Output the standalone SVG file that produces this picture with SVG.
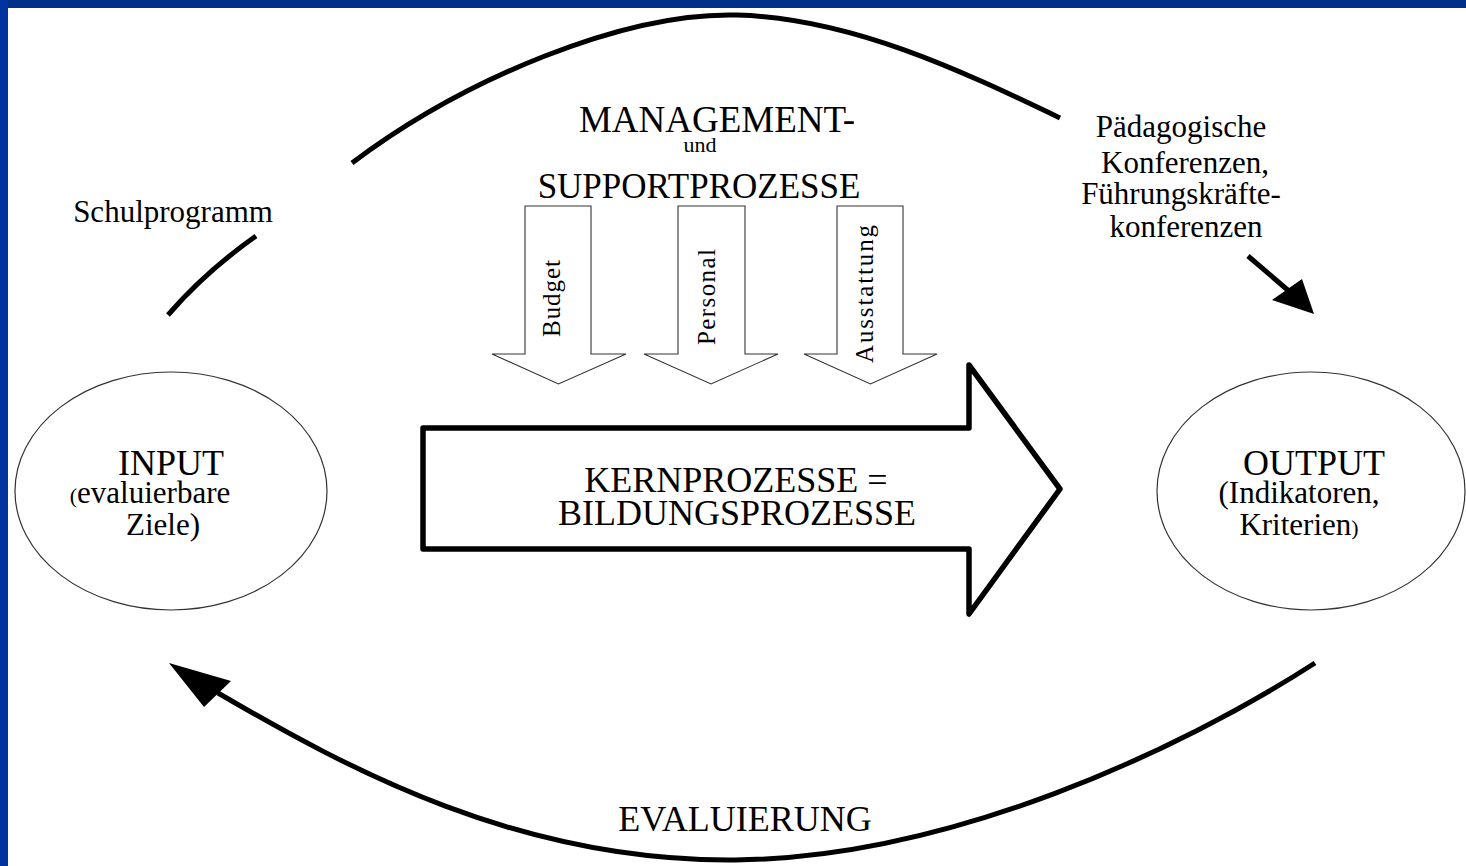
<svg xmlns="http://www.w3.org/2000/svg" width="1466" height="866" viewBox="0 0 1466 866">
<style>
  text { font-family: "Liberation Serif", "Times New Roman", serif; fill: #000; }
  .big { font-size: 36px; }
  .mid { font-size: 31px; }
  .rot { font-size: 25px; }
  .conn { fill: none; stroke: #000; stroke-width: 5; }
  .head { fill: #000; stroke: none; }
  .oval { fill: #fff; stroke: #333; stroke-width: 1.2; }
  .sup { fill: #fff; stroke: #333; stroke-width: 1.1; }
</style>
<rect x="0" y="0" width="1466" height="866" fill="#fff"/>
<rect x="0" y="0" width="1466" height="8" fill="#00308a"/>
<rect x="0" y="0" width="8" height="866" fill="#0035a0"/>

<g id="connectors">
  <path class="conn" d="M352,163 C465,78 625,12 737,15 C850,18 960,70 1060,118"/>
  <path class="conn" d="M168,315 Q205,272 256,236"/>
  <path class="conn" d="M1248,256 L1290,292"/>
  <polygon class="head" points="1314,314 1272,300 1302,279"/>
  <path class="conn" d="M1315,663 C1180,750 950,858 735,860 C520,862 350,770 218,693"/>
  <polygon class="head" points="169,663 231,681 204,707"/>
</g>

<g id="label-schulprogramm">
  <text class="mid" x="173" y="222" text-anchor="middle">Schulprogramm</text>
</g>

<g id="label-paedagogisch">
  <text class="mid" x="1181" y="137" text-anchor="middle">Pädagogische</text>
  <text class="mid" x="1185" y="173" text-anchor="middle">Konferenzen,</text>
  <text class="mid" x="1181" y="204" text-anchor="middle">Führungskräfte-</text>
  <text class="mid" x="1186" y="237" text-anchor="middle">konferenzen</text>
</g>

<g id="management">
  <text x="717" y="132" text-anchor="middle" style="font-size:37px">MANAGEMENT-</text>
  <text x="700" y="152" text-anchor="middle" style="font-size:22px">und</text>
  <text x="699" y="198" text-anchor="middle" style="font-size:35px">SUPPORTPROZESSE</text>
</g>

<g id="arrow-budget">
  <polygon class="sup" points="525,206 591,206 591,354 626,354 558.5,384 492,354 525,354"/>
  <text class="rot" transform="translate(560,298.5) rotate(-90)" text-anchor="middle" textLength="77" lengthAdjust="spacing">Budget</text>
</g>
<g id="arrow-personal">
  <polygon class="sup" points="678,206 745,206 745,354 778,354 711,384 644,354 678,354"/>
  <text class="rot" transform="translate(715,297) rotate(-90)" text-anchor="middle" textLength="96" lengthAdjust="spacing">Personal</text>
</g>
<g id="arrow-ausstattung">
  <polygon class="sup" points="837,206 903,206 903,354 937,354 870.5,384 804,354 837,354"/>
  <text class="rot" transform="translate(873,294) rotate(-90)" text-anchor="middle" textLength="138" lengthAdjust="spacing">Ausstattung</text>
</g>

<g id="kernprozesse">
  <path d="M423,428 L969,428 L969,365 L1060,489 L969,614 L969,549 L423,549 Z" fill="#fff" stroke="#000" stroke-width="5.5" stroke-linejoin="round"/>
  <text class="big" x="736" y="492" text-anchor="middle">KERNPROZESSE =</text>
  <text class="big" x="737" y="525" text-anchor="middle">BILDUNGSPROZESSE</text>
</g>

<g id="input">
  <ellipse class="oval" cx="171" cy="491" rx="156" ry="119"/>
  <text class="big" x="171" y="475" text-anchor="middle">INPUT</text>
  <text x="150" y="503" text-anchor="middle" class="mid"><tspan style="font-size:22px">(</tspan>evaluierbare</text>
  <text class="mid" x="163" y="535" text-anchor="middle">Ziele)</text>
</g>

<g id="output">
  <ellipse class="oval" cx="1311" cy="491" rx="154" ry="119"/>
  <text class="big" x="1314" y="475" text-anchor="middle">OUTPUT</text>
  <text class="mid" x="1299" y="503" text-anchor="middle">(Indikatoren,</text>
  <text class="mid" x="1299" y="535" text-anchor="middle">Kriterien<tspan style="font-size:22px">)</tspan></text>
</g>

<g id="label-evaluierung">
  <text class="big" x="745" y="831" text-anchor="middle">EVALUIERUNG</text>
</g>
</svg>
